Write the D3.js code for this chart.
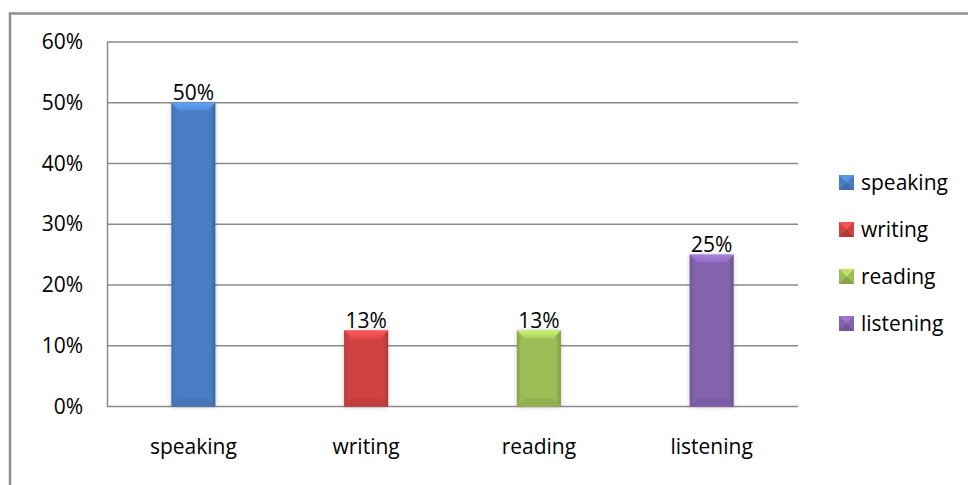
<!DOCTYPE html>
<html><head><meta charset="utf-8">
<script src="https://cdn.jsdelivr.net/npm/d3@7"></script>
<style>body{margin:0;background:#fff}svg{display:block}text{font-family:"Open Sans",sans-serif;fill:#000}</style>
</head><body>
<svg id="c" width="968" height="485"></svg>
<script>
const categories = ["speaking","writing","reading","listening"];
const values = [0.50, 0.125, 0.125, 0.25];
const labels = ["50%","13%","13%","25%"];
const colors = ["#4A7EC4","#D04343","#9CBD55","#8363AE"];
const yTicks = [0,0.1,0.2,0.3,0.4,0.5,0.6];
const FS = "21px";

const svg = d3.select("#c");
const defs = svg.append("defs");
// outer frame
svg.append("rect").attr("x",10).attr("y",13.5).attr("width",970).attr("height",500)
  .attr("fill","none").attr("stroke","#8f8f8f").attr("stroke-width",2.5);

const L=107,R=798,T=42,B=406.5;
const x = d3.scaleBand().domain(categories).range([L,R]).paddingInner(0.745).paddingOuter(0.3725);
const y = d3.scaleLinear().domain([0,0.6]).range([B,T]);

// gridlines
svg.append("g").selectAll("line").data(yTicks).join("line")
  .attr("x1",L).attr("x2",R).attr("y1",d=>y(d)).attr("y2",d=>y(d))
  .attr("stroke","#8a8a8a").attr("stroke-width",1.5);
// y axis
const ya = svg.append("g").attr("transform",`translate(${L},0)`)
  .call(d3.axisLeft(y).tickValues(yTicks).tickFormat(d3.format(".0%")).tickSize(0).tickPadding(24));
ya.select(".domain").attr("stroke","#8a8a8a").attr("stroke-width",1.5);
ya.selectAll("text").style("font-size",FS).style("font-family","'Open Sans',sans-serif").attr("fill","#000");

// x axis labels
const xa = svg.append("g").attr("transform",`translate(0,${B})`)
  .call(d3.axisBottom(x).tickSize(0).tickPadding(33));
xa.select(".domain").remove();
xa.selectAll("text").style("font-size",FS).style("font-family","'Open Sans',sans-serif").attr("fill","#000");

// gradients
colors.forEach((c,i)=>{
  const g = defs.append("linearGradient").attr("id","g"+i).attr("x1",0).attr("x2",1).attr("y1",0).attr("y2",0);
  const cc = d3.color(c);
  g.append("stop").attr("offset","0%").attr("stop-color",cc.darker(0.4));
  g.append("stop").attr("offset","10%").attr("stop-color",cc);
  g.append("stop").attr("offset","88%").attr("stop-color",cc);
  g.append("stop").attr("offset","100%").attr("stop-color",cc.darker(0.6));
  const t = defs.append("linearGradient").attr("id","t"+i).attr("x1",0).attr("x2",0).attr("y1",0).attr("y2",1);
  t.append("stop").attr("offset","0%").attr("stop-color",cc.brighter(0.7));
  t.append("stop").attr("offset","100%").attr("stop-color",cc.brighter(0.25));
});
const f = defs.append("filter").attr("id","sh").attr("x","-30%").attr("y","-10%").attr("width","160%").attr("height","120%");
f.append("feGaussianBlur").attr("in","SourceAlpha").attr("stdDeviation",2.5).attr("result","b");
f.append("feComponentTransfer").append("feFuncA").attr("type","linear").attr("slope",0.22);
const m = f.append("feMerge"); m.append("feMergeNode"); m.append("feMergeNode").attr("in","SourceGraphic");

const bars = svg.append("g").selectAll("g").data(categories).join("g").attr("filter","url(#sh)");
bars.each(function(cat,i){
  const gsel = d3.select(this);
  const x0 = x(cat), w = x.bandwidth(), y0 = y(values[i]), h = B - y0;
  const cc = d3.color(colors[i]);
  gsel.append("rect").attr("x",x0).attr("y",y0).attr("width",w).attr("height",h).attr("fill",`url(#g${i})`);
  const bv = 8;
  gsel.append("path").attr("d",`M${x0},${y0}L${x0+w},${y0}L${x0+w-bv},${y0+bv}L${x0+bv},${y0+bv}Z`)
    .attr("fill",`url(#t${i})`);
  gsel.append("path").attr("d",`M${x0},${B}L${x0+w},${B}L${x0+w-bv},${B-bv}L${x0+bv},${B-bv}Z`)
    .attr("fill",cc.darker(0.2));
});

// data labels
svg.append("g").selectAll("text").data(categories).join("text")
  .attr("x",d=>x(d)+x.bandwidth()/2).attr("y",(d,i)=>y(values[i])-3)
  .attr("text-anchor","middle").style("font-size",FS).text((d,i)=>labels[i]);

// legend
const lg = svg.append("g").selectAll("g").data(categories).join("g")
  .attr("transform",(d,i)=>`translate(839,${175+i*47})`);
lg.each(function(d,i){
  const g = d3.select(this); const cc = d3.color(colors[i]);
  g.append("rect").attr("x",0).attr("y",0).attr("width",15).attr("height",15).attr("fill",cc);
  g.append("path").attr("d","M0,0L15,0L7.5,7.5Z").attr("fill",cc.brighter(0.5));
  g.append("path").attr("d","M0,15L15,15L7.5,7.5Z").attr("fill",cc.darker(0.4));
  g.append("text").attr("x",22).attr("y",14.5).style("font-size",FS).text(d);
});
</script>
</body></html>
